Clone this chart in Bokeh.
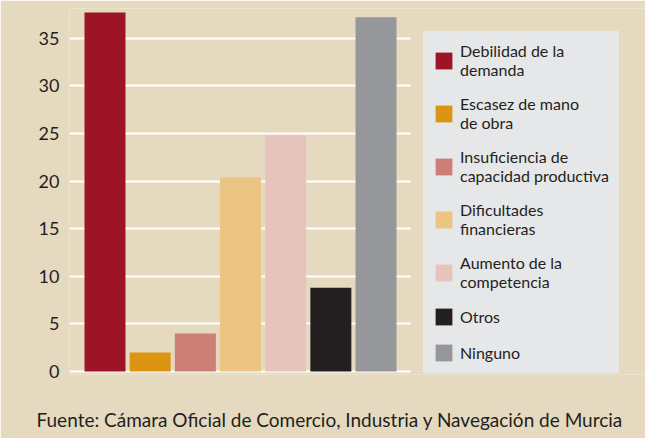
from bokeh.plotting import figure
from bokeh.models import ColumnDataSource, Range1d, FixedTicker, Legend, LegendItem, Title
from bokeh.embed import file_html
from bokeh.resources import INLINE

categories = ["Debilidad de la\ndemanda", "Escasez de mano\nde obra",
              "Insuficiencia de\ncapacidad productiva", "Dificultades\nfinancieras",
              "Aumento de la\ncompetencia", "Otros", "Ninguno"]
values = [37.7, 2.0, 4.0, 20.4, 24.8, 8.8, 37.2]
colors = ["#9D1427", "#DC9512", "#CB7F77", "#ECC584", "#E7C3BE", "#231F20", "#96979A"]
y_ticks = [0, 5, 10, 15, 20, 25, 30, 35]
source_text = "Fuente: Cámara Oficial de Comercio, Industria y Navegación de Murcia"

BG = "#E5DABF"
LEG_BG = "#E6E7E8"
FONT = "Lato"
TXT = "#231F20"

X_START, X_END, GRID_END = 0.214, 12.966, 7.764

xs = list(range(1, len(values) + 1))
src = ColumnDataSource(dict(x=xs, top=values, color=colors, label=categories))

p = figure(width=645, height=438, output_backend="svg", toolbar_location=None,
           x_range=Range1d(X_START, X_END), y_range=Range1d(-0.314, 38.11),
           x_axis_location=None, min_border_top=8, min_border_left=69,
           min_border_right=0, min_border_bottom=63)
p.background_fill_color = BG
p.border_fill_color = BG
p.outline_line_color = None

r = p.vbar(x="x", top="top", bottom=0, width=0.908, color="color", line_color=None, source=src)

p.xgrid.visible = False
p.ygrid.ticker = FixedTicker(ticks=y_ticks)
p.ygrid.grid_line_color = "white"
p.ygrid.grid_line_width = 2
p.ygrid.cross_bounds = (X_START, GRID_END)

ax = p.yaxis[0]
ax.ticker = FixedTicker(ticks=y_ticks)
ax.axis_line_color = None
ax.major_tick_line_color = None
ax.minor_tick_line_color = None
ax.major_tick_out = 0
ax.major_tick_in = 0
ax.major_label_standoff = 10
ax.major_label_text_font = FONT
ax.major_label_text_font_size = "18px"
ax.major_label_text_color = TXT

items = [LegendItem(label=lab, renderers=[r], index=i) for i, lab in enumerate(categories)]
legend = Legend(items=items, location=(354, 1), orientation="vertical",
                background_fill_color=LEG_BG, background_fill_alpha=1.0,
                border_line_color=LEG_BG, border_line_width=1, border_line_alpha=1.0,
                padding=9, spacing=15, margin=0,
                glyph_width=21, glyph_height=21, label_standoff=6,
                label_text_font=FONT, label_text_font_size="16px",
                label_text_color=TXT)
p.add_layout(legend, "center")

t = Title(text="\n" + source_text, align="left", offset=-33, standoff=16,
          text_font=FONT, text_font_size="19px", text_font_style="normal",
          text_color=TXT)
p.add_layout(t, "below")

open("out.html", "w").write(file_html(p, INLINE))
